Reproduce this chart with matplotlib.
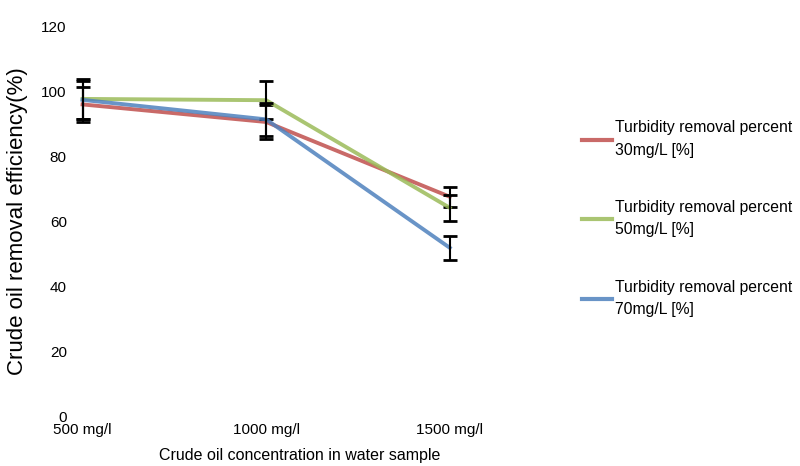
import matplotlib.pyplot as plt

concentrations = ["500 mg/l", "1000 mg/l", "1500 mg/l"]

# turbidity removal (%) for each coagulant dose
removal_30 = [95.9, 90.5, 67.5]
removal_50 = [97.6, 97.2, 64.1]
removal_70 = [97.3, 91.3, 51.8]

err_30 = [5.5, 5.2, 3.1]
err_50 = [6.2, 5.9, 4.0]
err_70 = [5.8, 5.0, 3.7]

labels = ["Turbidity removal percent\n30mg/L [%]",
          "Turbidity removal percent\n50mg/L [%]",
          "Turbidity removal percent\n70mg/L [%]"]
colors = ["#c0504d", "#9bbb59", "#4f81bd"]

plt.rcParams["font.family"] = "Liberation Sans"

fig = plt.figure(figsize=(8, 4.66), dpi=100)
ax = fig.add_axes([0.094, 0.107, 0.56, 0.837])

x = range(len(concentrations))
for vals, errs, c, lab in zip([removal_30, removal_50, removal_70],
                              [err_30, err_50, err_70], colors, labels):
    ax.plot(x, vals, color=c, lw=2.8, alpha=0.85, label=lab)
    ax.errorbar(x, vals, yerr=errs, fmt="none", ecolor="black",
                elinewidth=1.5, capsize=5, capthick=2)

ax.set_xlim(-0.04, 2.4)
ax.set_ylim(0, 120)
ax.set_yticks(range(0, 121, 20))
ax.set_xticks(list(x))
ax.set_xticklabels(concentrations)

for s in ax.spines.values():
    s.set_visible(False)
ax.tick_params(axis="both", length=0, labelsize=11)
ax.tick_params(axis="x", pad=5)
ax.tick_params(axis="y", pad=6)

ax.set_ylabel("Crude oil removal efficiency(%)", fontsize=16)
ax.yaxis.set_label_coords(-0.105, 0.5)
ax.set_xlabel("Crude oil concentration in water sample", fontsize=11.5,
              labelpad=8)

leg = fig.legend(loc="upper left", bbox_to_anchor=(0.72, 0.755),
                 frameon=False, handlelength=1.9, handletextpad=0.2,
                 labelspacing=2.7, borderaxespad=0,
                 prop={"size": 11.3})
for line in leg.get_lines():
    line.set_linewidth(3)
for t in leg.get_texts():
    t.set_linespacing(1.6)

fig.savefig("out.png", dpi=100)
